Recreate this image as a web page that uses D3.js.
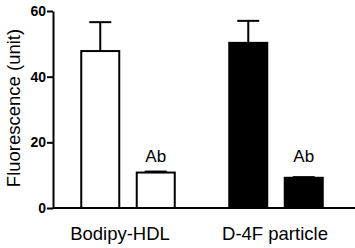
<!DOCTYPE html>
<html>
<head>
<meta charset="utf-8">
<script src="https://cdn.jsdelivr.net/npm/d3@7"></script>
<style>
  body { margin: 0; background: #fff; }
  svg { display: block; font-family: "Liberation Sans", Arial, sans-serif; }
</style>
</head>
<body>
<div id="chart"></div>
<script>
var groups = ["Bodipy-HDL", "D-4F particle"];
var series = ["total", "Ab"];
var means = [[47.8, 10.8], [50.3, 9.2]];
var errors = [[8.8, 0.3], [6.7, 0.2]];
var fills = ["#fff", "#000"];
var yTicks = [0, 20, 40, 60];
var annot = ["", "Ab"];

var width = 355, height = 248;

var svg = d3.select("#chart")
    .append("svg")
        .attr("width", width)
        .attr("height", height);

var y = d3.scaleLinear()
    .domain([0, 60])
    .range([208, 11]);

var x = d3.scaleBand()
    .domain(groups)
    .range([54, 350])
    .padding(0);

var xInner = d3.scaleBand()
    .domain(series)
    .range([0, x.bandwidth()])
    .paddingInner(0.315)
    .paddingOuter(0.491);

// y axis
var yAxis = svg.append("g")
    .attr("transform", "translate(53,0)")
    .call(d3.axisLeft(y).tickValues(yTicks).tickSize(6).tickSizeOuter(0).tickPadding(1));
yAxis.select(".domain").attr("stroke-width", 2);
yAxis.selectAll(".tick line").attr("stroke-width", 2);
yAxis.selectAll("text")
    .style("font-size", "14px")
    .style("font-weight", "bold")
    .attr("fill", "#000");

// x axis line
svg.append("line")
    .attr("x1", 53).attr("x2", 355)
    .attr("y1", y(0)).attr("y2", y(0))
    .attr("stroke", "#000")
    .attr("stroke-width", 2);

var g = svg.selectAll(".grp")
    .data(groups)
    .enter().append("g")
    .attr("class", "grp")
    .attr("transform", function(d) { return "translate(" + x(d) + ",0)"; });

// annotation height shared by both groups
var annotTop = d3.max(means, function(m, gi) { return m[1] + errors[gi][1]; });

// error bars (upper only)
g.each(function(gname, gi) {
    var sel = d3.select(this);
    series.forEach(function(s, si) {
        var cx = xInner(s) + xInner.bandwidth() / 2;
        var top = y(means[gi][si] + errors[gi][si]);
        var capW = 22;
        sel.append("line")
            .attr("x1", cx).attr("x2", cx)
            .attr("y1", y(means[gi][si])).attr("y2", top)
            .attr("stroke", "#000").attr("stroke-width", 2);
        sel.append("line")
            .attr("x1", cx - capW / 2).attr("x2", cx + capW / 2)
            .attr("y1", top).attr("y2", top)
            .attr("stroke", "#000").attr("stroke-width", 2);
    });
});

// bars
g.each(function(gname, gi) {
    var sel = d3.select(this);
    sel.selectAll("rect")
        .data(means[gi])
        .enter().append("rect")
        .attr("x", function(d, i) { return xInner(series[i]); })
        .attr("y", function(d) { return y(d); })
        .attr("width", xInner.bandwidth())
        .attr("height", function(d) { return y(0) - y(d); })
        .attr("fill", fills[gi])
        .attr("stroke", "#000")
        .attr("stroke-width", 2);

    sel.selectAll(".annot")
        .data(means[gi])
        .enter().append("text")
        .attr("class", "annot")
        .attr("x", function(d, i) { return xInner(series[i]) + xInner.bandwidth() / 2; })
        .attr("y", y(annotTop) - 10)
        .attr("text-anchor", "middle")
        .style("font-size", "17px")
        .text(function(d, i) { return annot[i]; });
});

// group labels
var labelShift = [-8, -1];
svg.selectAll(".xlab")
    .data(groups)
    .enter().append("text")
    .attr("class", "xlab")
    .attr("x", function(d, i) { return x(d) + x.bandwidth() / 2 + labelShift[i]; })
    .attr("y", 240)
    .attr("text-anchor", "middle")
    .style("font-size", "18.5px")
    .text(function(d) { return d; });

// y label
svg.append("text")
    .attr("transform", "translate(20,108) rotate(-90)")
    .attr("text-anchor", "middle")
    .style("font-size", "18.5px")
    .text("Fluorescence (unit)");
</script>
</body>
</html>
